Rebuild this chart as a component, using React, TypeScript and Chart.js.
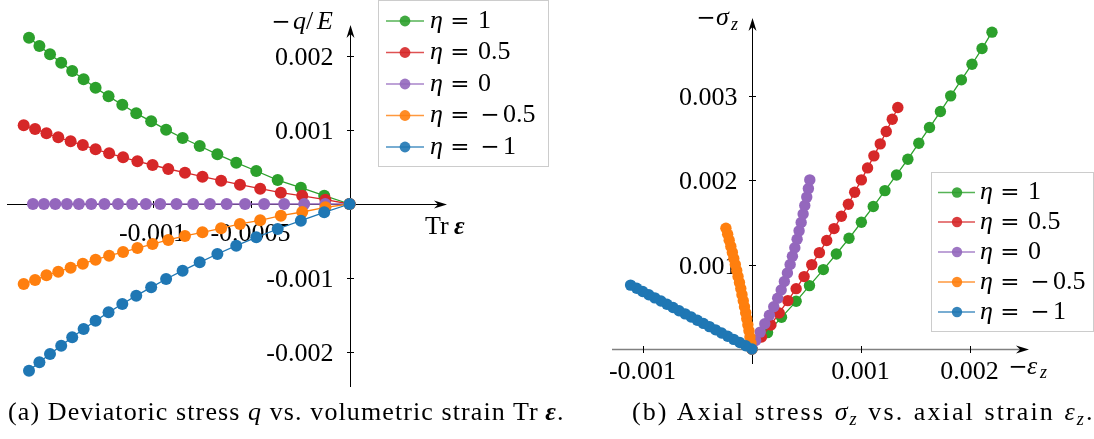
import React, { useEffect, useRef } from "react";
import { Chart, registerables } from "chart.js";

Chart.register(...registerables);

// ---------- shared series info ----------
const etaValues = ["1", "0.5", "0", "−0.5", "−1"];
const etaColors = ["#2ca02c", "#d62728", "#9467bd", "#ff7f0e", "#1f77b4"];

// ---------- panel (a): -q/E vs Tr eps ----------
const aGreenX = [-0.001632, -0.001579, -0.001525, -0.001468, -0.001412, -0.001354, -0.001293, -0.001227, -0.001157, -0.001086, -0.00101, -0.000934, -0.00085, -0.000763, -0.000673, -0.000577, -0.000475, -0.000366, -0.000248, -0.000129, 0];
const aGreenY = [0.002248, 0.002135, 0.002023, 0.00191, 0.001797, 0.001685, 0.001572, 0.001455, 0.001342, 0.001225, 0.001117, 0.001005, 0.000892, 0.000784, 0.000671, 0.000559, 0.000446, 0.000324, 0.000221, 0.000113, 0];
const aRedX = [-0.001659, -0.001601, -0.001543, -0.001483, -0.00142, -0.001358, -0.001293, -0.001224, -0.001153, -0.00108, -0.001003, -0.000923, -0.000838, -0.000749, -0.000654, -0.000558, -0.000455, -0.00035, -0.000241, -0.000123, 0];
const aRedY = [0.001063, 0.001014, 0.000955, 0.000901, 0.000847, 0.000797, 0.000739, 0.000685, 0.000631, 0.000577, 0.000527, 0.000473, 0.000423, 0.000369, 0.000315, 0.000261, 0.000207, 0.000153, 0.00011, 0.000058, 0];
const aPurpleX = [-0.001612, -0.001556, -0.001498, -0.001439, -0.001378, -0.001315, -0.001248, -0.001179, -0.001107, -0.001037, -0.000964, -0.000881, -0.000796, -0.000711, -0.000626, -0.000532, -0.000435, -0.000333, -0.000231, -0.000124, 0];
const aPurpleY = [0, 0, 0, 0, 0, 0, 0, 0, 0, 0, 0, 0, 0, 0, 0, 0, 0, 0, 0, 0, 0];
const aOrangeX = [-0.001659, -0.001601, -0.001543, -0.001483, -0.00142, -0.001358, -0.001293, -0.001224, -0.001153, -0.00108, -0.001003, -0.000923, -0.000838, -0.000749, -0.000654, -0.000558, -0.000455, -0.00035, -0.000241, -0.000123, 0];
const aOrangeY = [-0.001081, -0.001027, -0.000964, -0.000914, -0.00086, -0.000806, -0.000752, -0.000698, -0.000649, -0.000595, -0.000541, -0.000486, -0.000432, -0.000383, -0.000329, -0.00027, -0.000221, -0.000158, -0.000108, -0.000045, 0];
const aBlueX = [-0.001632, -0.001579, -0.001525, -0.001468, -0.001412, -0.001354, -0.001293, -0.001227, -0.001157, -0.001086, -0.00101, -0.000934, -0.00085, -0.000763, -0.000673, -0.000577, -0.000475, -0.000366, -0.000248, -0.000129, 0];
const aBlueY = [-0.002252, -0.00214, -0.002027, -0.001914, -0.001802, -0.001689, -0.001577, -0.001464, -0.001351, -0.001239, -0.001126, -0.001014, -0.000901, -0.000788, -0.000676, -0.000563, -0.00045, -0.000338, -0.000225, -0.000113, 0];

const aXTicks = [-0.001, -0.0005];
const aXTickLabels = ["-0.001", "-0.0005"];
const aYTicks = [0.002, 0.001, -0.001, -0.002];
const aYTickLabels = ["0.002", "0.001", "-0.001", "-0.002"];

// ---------- panel (b): -sigma_z vs -eps_z ----------
const bGreenX = [0, 0.000143, 0.000271, 0.000405, 0.000527, 0.000654, 0.000773, 0.000889, 0.001002, 0.001111, 0.001218, 0.001324, 0.001428, 0.001528, 0.001626, 0.001726, 0.00182, 0.001918, 0.002015, 0.002107, 0.002198];
const bGreenY = [0, 0.000194, 0.000375, 0.000565, 0.000751, 0.000941, 0.001126, 0.001312, 0.001502, 0.001688, 0.001877, 0.002063, 0.002249, 0.002439, 0.002625, 0.002814, 0.003, 0.00319, 0.003375, 0.003561, 0.003755];
const bRedX = [0, 0.000088, 0.000174, 0.00025, 0.000329, 0.000405, 0.000478, 0.000548, 0.000618, 0.000685, 0.000752, 0.000819, 0.000883, 0.000941, 0.001002, 0.001059, 0.001117, 0.001175, 0.00123, 0.001285, 0.001336];
const bRedY = [0, 0.000142, 0.000285, 0.000427, 0.000573, 0.000715, 0.000858, 0.001, 0.001142, 0.001285, 0.001427, 0.001573, 0.001715, 0.001858, 0.002004, 0.002146, 0.002289, 0.002431, 0.002577, 0.002723, 0.002862];
const bPurpleX = [0, 0.000034, 0.000076, 0.000118, 0.00016, 0.0002, 0.000236, 0.000268, 0.000297, 0.000325, 0.00035, 0.000371, 0.000393, 0.000414, 0.000432, 0.000451, 0.000469, 0.000484, 0.000502, 0.000517, 0.00053];
const bPurpleY = [0, 0.000101, 0.0002, 0.0003, 0.0004, 0.0005, 0.000601, 0.0007, 0.0008, 0.0009, 0.001001, 0.0011, 0.0012, 0.0013, 0.0014, 0.0015, 0.001601, 0.0017, 0.0018, 0.001901, 0.002004];
const bOrangeX = [0, -0.000009, -0.000018, -0.000027, -0.000037, -0.000047, -0.000057, -0.000068, -0.000079, -0.000091, -0.000102, -0.000114, -0.000127, -0.000139, -0.000152, -0.000166, -0.000179, -0.000193, -0.000208, -0.000222, -0.000238];
const bOrangeY = [0, 0.000072, 0.000143, 0.000215, 0.000286, 0.000358, 0.000429, 0.000501, 0.000572, 0.000644, 0.000716, 0.000787, 0.000859, 0.00093, 0.001002, 0.001073, 0.001145, 0.001216, 0.001288, 0.001359, 0.001431];
const bBlueX = [0, -0.000056, -0.000111, -0.000167, -0.000222, -0.000278, -0.000333, -0.000389, -0.000444, -0.0005, -0.000556, -0.000611, -0.000667, -0.000722, -0.000778, -0.000833, -0.000889, -0.000944, -0.001, -0.001055, -0.001111];
const bBlueY = [0, 0.000038, 0.000076, 0.000114, 0.000151, 0.000189, 0.000227, 0.000265, 0.000303, 0.000341, 0.000379, 0.000416, 0.000454, 0.000492, 0.00053, 0.000568, 0.000606, 0.000643, 0.000681, 0.000719, 0.000757];

const bXTicks = [-0.001, 0.001, 0.002];
const bXTickLabels = ["-0.001", "0.001", "0.002"];
const bYTicks = [0.001, 0.002, 0.003];
const bYTickLabels = ["0.001", "0.002", "0.003"];

// ---------- drawing helpers ----------
const SERIF = "'Liberation Serif', 'Times New Roman', serif";
const SYM = "'DejaVu Serif', serif";
const F_TEXT = `26px ${SERIF}`;
const F_ITAL = `italic 26px ${SERIF}`;
const F_SUB = `italic 18px ${SERIF}`;
const F_SYM = `23px ${SYM}`;

type Run = { t: string; f: string; x: number; y: number; align?: CanvasTextAlign };

function drawRuns(ctx: CanvasRenderingContext2D, runs: Run[]) {
  for (const r of runs) {
    ctx.font = r.f;
    ctx.textAlign = r.align || "left";
    ctx.textBaseline = "alphabetic";
    ctx.fillStyle = "#000";
    ctx.fillText(r.t, r.x, r.y);
  }
}

function arrow(ctx: CanvasRenderingContext2D, tx: number, ty: number, dx: number, dy: number) {
  const L = 13, W = 4, N = 9;
  const px = -dy, py = dx;
  ctx.beginPath();
  ctx.moveTo(tx, ty);
  ctx.lineTo(tx - dx * L + px * W, ty - dy * L + py * W);
  ctx.lineTo(tx - dx * N, ty - dy * N);
  ctx.lineTo(tx - dx * L - px * W, ty - dy * L - py * W);
  ctx.closePath();
  ctx.fillStyle = "#000";
  ctx.fill();
}

type Spec = {
  xAxisColor: string;
  xAxisWidth: number;
  xTicks: number[];
  xTickLabels: string[];
  xLabelDy: number;
  yTicks: number[];
  yTickLabels: string[];
  yLabelDx: number;
  axisLabels: Run[];
  markerR: number;
  legend: { l: number; t: number; r: number; b: number; rows: number[]; lx0: number; lx1: number; mx: number; tx: number };
};

function makeDecor(spec: Spec) {
  return {
    id: "decor",
    beforeDatasetsDraw(chart: any) {
      const { ctx, chartArea: a, scales } = chart;
      const xs = scales.x, ys = scales.y;
      const ox = Math.round(xs.getPixelForValue(0)) + 0.5;
      const oy = Math.round(ys.getPixelForValue(0)) + 0.5;
      ctx.save();
      ctx.strokeStyle = spec.xAxisColor;
      ctx.lineWidth = spec.xAxisWidth;
      ctx.beginPath();
      ctx.moveTo(a.left, oy);
      ctx.lineTo(a.right - 8, oy);
      ctx.stroke();
      arrow(ctx, a.right, oy, 1, 0);
      ctx.strokeStyle = "#000";
      ctx.lineWidth = 1;
      ctx.beginPath();
      ctx.moveTo(ox, a.bottom);
      ctx.lineTo(ox, a.top + 8);
      ctx.stroke();
      arrow(ctx, ox, a.top, 0, -1);
      ctx.strokeStyle = "#000";
      ctx.lineWidth = 1;
      spec.xTicks.forEach((v, i) => {
        const px = Math.round(xs.getPixelForValue(v)) + 0.5;
        ctx.beginPath();
        ctx.moveTo(px, oy - 3.5);
        ctx.lineTo(px, oy + 3.5);
        ctx.stroke();
        ctx.font = F_TEXT;
        ctx.fillStyle = "#000";
        ctx.textAlign = "center";
        ctx.textBaseline = "alphabetic";
        ctx.fillText(spec.xTickLabels[i], px - 1, oy + spec.xLabelDy);
      });
      spec.yTicks.forEach((v, i) => {
        const py = Math.round(ys.getPixelForValue(v)) + 0.5;
        ctx.beginPath();
        ctx.moveTo(ox - 3.5, py);
        ctx.lineTo(ox + 3.5, py);
        ctx.stroke();
        ctx.font = F_TEXT;
        ctx.fillStyle = "#000";
        ctx.textAlign = "right";
        ctx.textBaseline = "alphabetic";
        ctx.fillText(spec.yTickLabels[i], ox + spec.yLabelDx, py + 8.5);
      });
      drawRuns(ctx, spec.axisLabels);
      ctx.restore();
    },
    afterDatasetsDraw(chart: any) {
      const { ctx } = chart;
      const L = spec.legend;
      ctx.save();
      ctx.fillStyle = "rgba(255,255,255,0.85)";
      ctx.fillRect(L.l, L.t, L.r - L.l, L.b - L.t);
      ctx.strokeStyle = "#cccccc";
      ctx.lineWidth = 1;
      ctx.strokeRect(L.l, L.t, L.r - L.l, L.b - L.t);
      L.rows.forEach((ry, i) => {
        const c = etaColors[i];
        ctx.globalAlpha = 0.8;
        ctx.strokeStyle = c;
        ctx.lineWidth = 1.4;
        ctx.beginPath();
        ctx.moveTo(L.lx0, ry);
        ctx.lineTo(L.lx1, ry);
        ctx.stroke();
        ctx.globalAlpha = 0.9;
        ctx.fillStyle = c;
        ctx.beginPath();
        ctx.arc(L.mx, ry, spec.markerR, 0, Math.PI * 2);
        ctx.fill();
        ctx.globalAlpha = 1;
        const base = ry + 6.8;
        const v = etaValues[i];
        const runs: Run[] = [
          { t: "η", f: F_ITAL, x: L.tx, y: base },
          { t: "=", f: F_SYM, x: L.tx + 30, y: base, align: "center" },
        ];
        if (v.startsWith("−")) {
          runs.push({ t: "−", f: F_SYM, x: L.tx + 60, y: base, align: "center" });
          runs.push({ t: v.slice(1), f: F_TEXT, x: L.tx + 73, y: base });
        } else {
          runs.push({ t: v, f: F_TEXT, x: L.tx + 48, y: base });
        }
        drawRuns(ctx, runs);
      });
      ctx.restore();
    },
  };
}

function pts(xs: number[], ys: number[]) {
  return xs.map((x, i) => ({ x, y: ys[i] }));
}

function makeDatasets(series: [number[], number[]][], r: number) {
  return series.map(([xs, ys], i) => ({
    label: `η = ${etaValues[i]}`,
    data: pts(xs, ys),
    showLine: true,
    borderColor: etaColors[i],
    backgroundColor: etaColors[i],
    pointBackgroundColor: etaColors[i],
    pointBorderColor: etaColors[i],
    borderWidth: 1.3,
    pointRadius: r,
    radius: r,
    pointBorderWidth: 0,
    pointHoverRadius: r,
    pointStyle: "circle",
    tension: 0,
    clip: false as any,
    order: 5 - i,
  }));
}

function makeConfig(datasets: any[], r: number, xmin: number, xmax: number, ymin: number, ymax: number, padding: any, spec: Spec): any {
  return {
    type: "scatter",
    data: { datasets },
    options: {
      animation: false,
      responsive: false,
      maintainAspectRatio: false,
      events: [],
      layout: { padding },
      elements: { point: { radius: r, hoverRadius: r, borderWidth: 0, pointStyle: "circle" } },
      scales: {
        x: { type: "linear", min: xmin, max: xmax, display: false },
        y: { type: "linear", min: ymin, max: ymax, display: false },
      },
      plugins: { legend: { display: false }, tooltip: { enabled: false }, title: { display: false } },
    },
    plugins: [makeDecor(spec)],
  };
}

const specA: Spec = {
  xAxisColor: "#000",
  xAxisWidth: 1,
  xTicks: aXTicks,
  xTickLabels: aXTickLabels,
  xLabelDy: 36,
  yTicks: aYTicks,
  yTickLabels: aYTickLabels,
  yLabelDx: -17,
  axisLabels: [
    { t: "−", f: F_SYM, x: 281, y: 28.5, align: "center" },
    { t: "q", f: F_ITAL, x: 293, y: 28.5 },
    { t: "/", f: F_TEXT, x: 306, y: 28.5 },
    { t: "E", f: F_ITAL, x: 317, y: 28.5 },
    { t: "Tr", f: F_TEXT, x: 425, y: 233.5 },
    { t: "ε", f: `italic bold 26px ${SERIF}`, x: 454, y: 233.5 },
  ],
  markerR: 5.4,
  legend: { l: 378.5, t: 0.5, r: 548.5, b: 166.5, rows: [21, 52.5, 84, 115.5, 147], lx0: 386, lx1: 424, mx: 405, tx: 430 },
};

const specB: Spec = {
  xAxisColor: "#808080",
  xAxisWidth: 1.3,
  xTicks: bXTicks,
  xTickLabels: bXTickLabels,
  xLabelDy: 29,
  yTicks: bYTicks,
  yTickLabels: bYTickLabels,
  yLabelDx: -15,
  axisLabels: [
    { t: "−", f: F_SYM, x: 146, y: 25, align: "center" },
    { t: "σ", f: F_ITAL, x: 156, y: 25 },
    { t: "z", f: F_SUB, x: 171, y: 29.5 },
    { t: "−", f: F_SYM, x: 458, y: 373.5, align: "center" },
    { t: "ε", f: F_ITAL, x: 467, y: 373.5 },
    { t: "z", f: F_SUB, x: 480, y: 378 },
  ],
  markerR: 5.2,
  legend: { l: 371.5, t: 172.5, r: 533.5, b: 331.5, rows: [192.5, 222, 252, 282, 312], lx0: 378, lx1: 415, mx: 397, tx: 420 },
};

const captionBase: React.CSSProperties = {
  position: "absolute",
  top: 399,
  fontFamily: SERIF,
  fontSize: 26,
  lineHeight: "26px",
  whiteSpace: "nowrap",
  color: "#000",
};

const subStyle: React.CSSProperties = { fontSize: "0.7em", position: "relative", top: "0.25em", fontStyle: "italic" };

export default function App() {
  const refA = useRef<HTMLCanvasElement>(null);
  const refB = useRef<HTMLCanvasElement>(null);

  useEffect(() => {
    const rA = 6;
    const rB = 5.7;
    const dsA = makeDatasets(
      [
        [aGreenX, aGreenY],
        [aRedX, aRedY],
        [aPurpleX, aPurpleY],
        [aOrangeX, aOrangeY],
        [aBlueX, aBlueY],
      ],
      rA
    );
    const dsB = makeDatasets(
      [
        [bGreenX, bGreenY],
        [bRedX, bRedY],
        [bPurpleX, bPurpleY],
        [bOrangeX, bOrangeY],
        [bBlueX, bBlueY],
      ],
      rB
    );
    const ca = new Chart(
      refA.current!,
      makeConfig(dsA, rA, -0.001744, 0.000496, -0.002473, 0.002419, { left: 7, right: 113, top: 25, bottom: 13 }, specA)
    );
    const cb = new Chart(
      refB.current!,
      makeConfig(dsB, rB, -0.001281, 0.002537, -0.000178, 0.003923, { left: 52, right: 65, top: 18, bottom: 36 }, specB)
    );
    return () => {
      ca.destroy();
      cb.destroy();
    };
  }, []);

  return (
    <div style={{ position: "absolute", left: 0, top: 0, width: 1094, height: 439, background: "#fff", overflow: "hidden" }}>
      <canvas ref={refA} width={560} height={400} style={{ position: "absolute", left: 0, top: 0, width: 560, height: 400 }} />
      <canvas ref={refB} width={534} height={400} style={{ position: "absolute", left: 560, top: 0, width: 534, height: 400 }} />
      <div style={{ ...captionBase, left: 8, width: 549, letterSpacing: "1.1px", textAlign: "justify", textAlignLast: "justify" as any }}>
        (a) Deviatoric stress <i>q</i> vs. volumetric strain Tr&thinsp;<b><i>ε</i></b>.
      </div>
      <div style={{ ...captionBase, left: 632, width: 453, letterSpacing: "2.1px", wordSpacing: "1px", textAlign: "justify", textAlignLast: "justify" as any }}>
        (b) Axial stress <i>σ</i><span style={subStyle}>z</span> vs. axial strain <i>ε</i><span style={subStyle}>z</span>.
      </div>
    </div>
  );
}
